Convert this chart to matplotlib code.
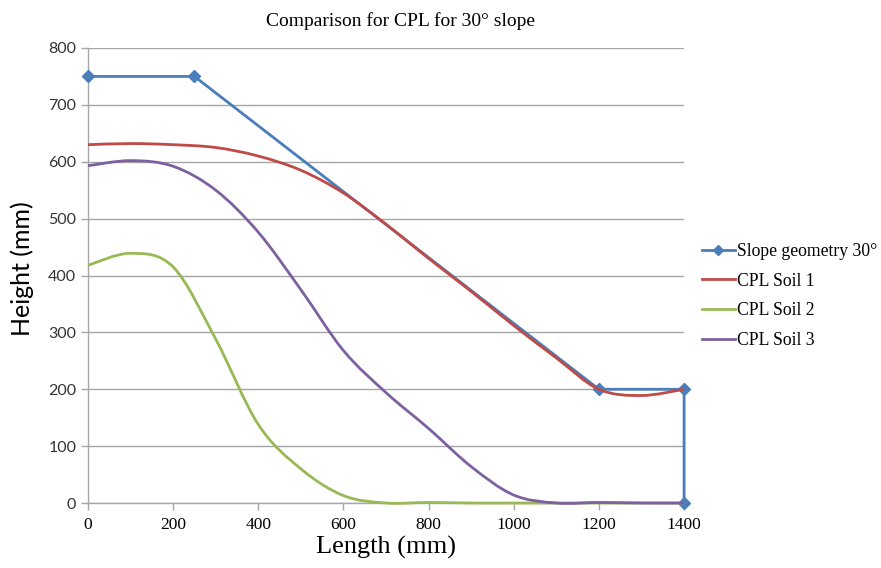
import numpy as np
import matplotlib.pyplot as plt
from matplotlib.path import Path
from matplotlib.patches import PathPatch
from matplotlib.lines import Line2D

# Slope geometry (straight segments with markers)
slope_x = [0, 250, 1200, 1400, 1400]
slope_y = [750, 750, 200, 200, 0]

# Critical phreatic lines for each soil (smoothed curves)
length_mm = [0, 100, 200, 300, 400, 500, 600, 700, 800, 900, 1000, 1100, 1200, 1300, 1400]
soil1_y = [630, 632, 630, 625, 610, 585, 545, 490, 430, 372, 312, 255, 200, 189, 200]
soil2_y = [418, 439, 415, 288, 138, 60, 13, 0, 1, 0, 0, 0, 0, 0, 0]
soil3_y = [593, 602, 592, 550, 476, 375, 268, 194, 131, 64, 14, 0, 1, 0, 0]

BLUE = '#4a7ebb'
RED = '#be4b48'
GREEN = '#98b954'
PURPLE = '#7d60a0'
GRID = '#a6a6a6'


def smooth_path(xs, ys):
    # Bezier segments with Catmull-Rom style control points ("smoothed line")
    p = np.column_stack([xs, ys]).astype(float)
    n = len(p)
    verts = [p[0]]
    codes = [Path.MOVETO]
    for i in range(n - 1):
        p0 = p[i - 1] if i > 0 else p[i]
        p1, p2 = p[i], p[i + 1]
        p3 = p[i + 2] if i + 2 < n else p[i + 1]
        c1 = p1 + (p2 - p0) / 6.0
        c2 = p2 - (p3 - p1) / 6.0
        verts += [c1, c2, p2]
        codes += [Path.CURVE4] * 3
    return Path(verts, codes)


fig = plt.figure(figsize=(8.81, 5.68), dpi=100)
ax = fig.add_axes([0.0999, 0.1144, 0.6766, 0.8011])

ax.set_xlim(0, 1400)
ax.set_ylim(0, 800)
ax.set_xticks(range(0, 1401, 200))
ax.set_yticks(range(0, 801, 100))
ax.yaxis.grid(True, color=GRID, linewidth=1.0)
ax.set_axisbelow(True)
for s in ['top', 'right']:
    ax.spines[s].set_visible(False)
for s in ['left', 'bottom']:
    ax.spines[s].set_color(GRID)
    ax.spines[s].set_linewidth(1.0)
ax.tick_params(axis='both', color=GRID, length=5, width=1.0, direction='out')
ax.tick_params(axis='x', pad=5)

for lbl in ax.get_xticklabels():
    lbl.set_family('Liberation Serif')
    lbl.set_fontsize(12.5)
for lbl in ax.get_yticklabels():
    lbl.set_family('Lato')
    lbl.set_fontsize(11.5)
    lbl.set_color('#333333')

ax.plot(slope_x, slope_y, color=BLUE, lw=2.0, marker='D', markersize=6,
        clip_on=False, zorder=3)

for ys, c in [(soil1_y, RED), (soil2_y, GREEN), (soil3_y, PURPLE)]:
    ax.add_patch(PathPatch(smooth_path(length_mm, ys), fill=False, edgecolor=c,
                           lw=2.0, clip_on=False, zorder=4))

fig.text(401 / 881, 1 - 26 / 568, 'Comparison for CPL for 30° slope',
         family='Liberation Serif', fontsize=14, ha='center', va='baseline')
ax.set_xlabel('Length (mm)', family='Liberation Serif', fontsize=19, labelpad=2)
ax.set_ylabel('Height (mm)', family='Lato', fontsize=18)
ax.yaxis.set_label_coords(-0.09, 0.516)

handles = [
    Line2D([], [], color=BLUE, lw=2, marker='D', markersize=5),
    Line2D([], [], color=RED, lw=2),
    Line2D([], [], color=GREEN, lw=2),
    Line2D([], [], color=PURPLE, lw=2),
]
labels = ['Slope geometry 30°', 'CPL Soil 1', 'CPL Soil 2', 'CPL Soil 3']
ax.legend(handles, labels, loc='center left', bbox_to_anchor=(1.0, 0.455),
          frameon=False, prop={'family': 'Liberation Serif', 'size': 12.7},
          handlelength=1.9, handletextpad=0.1, labelspacing=0.72,
          borderaxespad=0.6)

fig.savefig('out.png', dpi=100)
